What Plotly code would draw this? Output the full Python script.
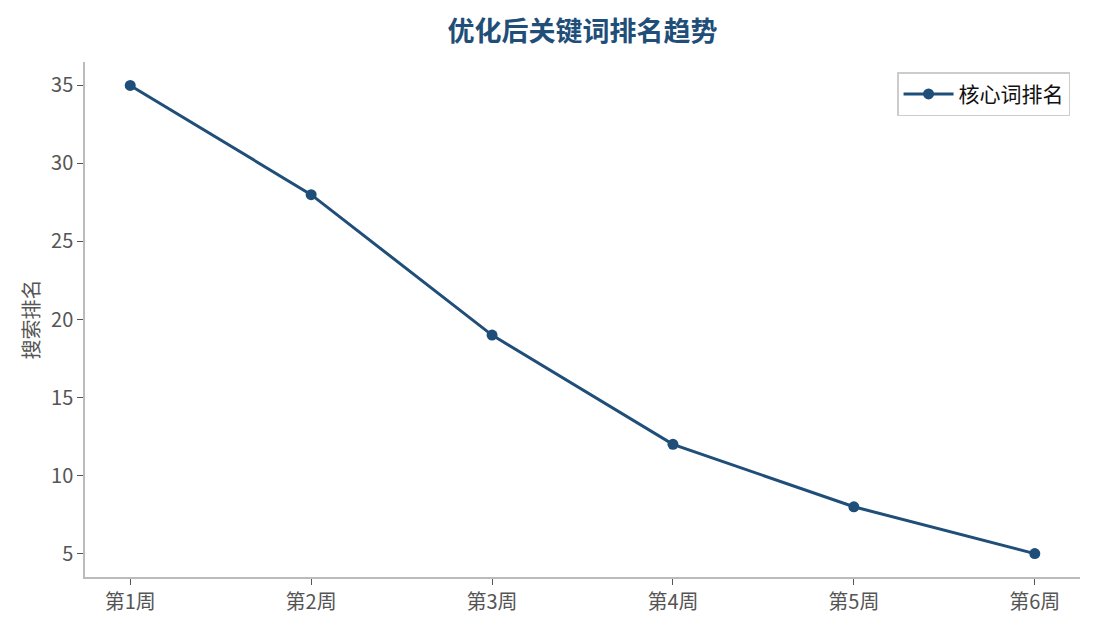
import plotly.graph_objects as go

weeks = ["第1周", "第2周", "第3周", "第4周", "第5周", "第6周"]
rank = [35, 28, 19, 12, 8, 5]
y_ticks = [5, 10, 15, 20, 25, 30, 35]

main_color = "#1f4e79"
font_family = "Noto Sans CJK SC, Noto Sans, sans-serif"

fig = go.Figure()
fig.add_trace(go.Scatter(
    x=list(range(len(weeks))), y=rank, mode="lines+markers", name="核心词排名",
    line=dict(color=main_color, width=3),
    marker=dict(color=main_color, size=11),
))

fig.update_layout(
    width=1095, height=630,
    paper_bgcolor="white", plot_bgcolor="white",
    font=dict(family=font_family, size=20, color="#555555"),
    margin=dict(l=77, r=23, t=54, b=61),
    title=dict(text="<b>优化后关键词排名趋势</b>", xref="paper", x=0.5, xanchor="center",
               y=0.962, yanchor="middle", font=dict(size=27, color=main_color)),
    legend=dict(x=0.99, y=0.98, xanchor="right", yanchor="top", itemwidth=50,
                bgcolor="white", bordercolor="#cccccc", borderwidth=1.5,
                font=dict(size=21, color="#111111")),
    showlegend=True,
)
fig.update_xaxes(
    range=[-0.25, 5.25], tickmode="array", tickvals=list(range(len(weeks))), ticktext=weeks,
    showgrid=False, zeroline=False, showline=True, linecolor="#bbbbbb", linewidth=1.5,
    ticks="outside", ticklen=6, tickcolor="#555555", tickfont=dict(size=20, color="#555555"),
)
fig.update_yaxes(
    range=[3.5, 36.5], tickmode="array", tickvals=y_ticks,
    showgrid=False, zeroline=False, showline=True, linecolor="#bbbbbb", linewidth=1.5,
    ticks="outside", ticklen=6, tickcolor="#555555", tickfont=dict(size=20, color="#555555"),
    title=dict(text="搜索排名", font=dict(size=20, color="#555555"), standoff=6),
)

fig.write_html("out.html")
